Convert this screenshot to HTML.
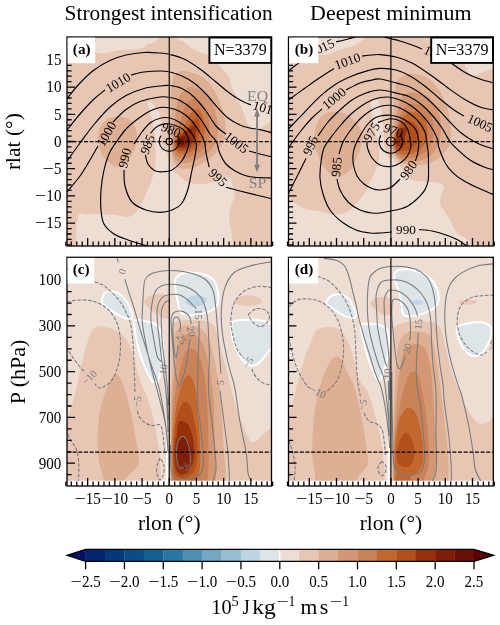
<!DOCTYPE html>
<html><head><meta charset="utf-8"><title>Composite figure</title>
<style>html,body{margin:0;padding:0;background:#fff}svg{display:block}text{font-family:'Liberation Serif', 'DejaVu Serif', serif;fill:#000}</style>
</head><body>
<svg width="500" height="625" viewBox="0 0 500 625">
<rect width="500" height="625" fill="#fff"/>
<clipPath id="cpa"><rect x="67" y="37" width="204.5" height="209"/></clipPath>
<clipPath id="cpb"><rect x="288.5" y="37" width="204.8" height="209"/></clipPath>
<clipPath id="cpc"><rect x="67" y="257.3" width="204.5" height="228.7"/></clipPath>
<clipPath id="cpd"><rect x="288.5" y="257.3" width="204.8" height="228.7"/></clipPath>
<g clip-path="url(#cpa)">
<rect x="67" y="37" width="204.5" height="209" fill="#EEDDD3"/><path d="M161.6,31 173.5,31 175.1,36 176,37.8 177,38.9 184,42 191,47.8 194,49.6 198,51.4 205,53.8 209,55.8 213,58.8 218,63.8 224.5,71 226.8,74 228,76 229.3,79 232,88 239.4,103 243.6,113 246.9,122 249,125.4 252,128.1 254,129.4 256,129.9 258,129.5 259.3,129 261.1,128 267,123.9 277,116.1 277,252 233,252 233.1,245 232.9,241 229.4,222 229,217 229.5,213 230.7,207 231.8,204 234.5,198 234.9,195 234.5,193 232.8,187 231.9,181 231,178.5 230,177.4 229.1,177 227.5,177 219,179.6 213,182.2 210,183.1 205,183.8 199,184.1 193,183.6 188,182.5 185,181 181,177.7 174.2,171 172.1,168 170.4,164 167,153.3 163,147 160.8,140 160.4,138 160.5,132 161.5,126 161.5,123 161.3,120 160.5,116 159,112 157,108.9 152,103 150,101.6 149,101.6 148.6,102 148.2,103 148.3,105 149.5,111 152.3,120 153.3,127 154.5,132 155.3,139 155.6,158 155.3,166 154.7,170 153.7,174 150,184.7 144.6,197 140,206 137,210.5 134,214 131.4,216 129,216.8 126,216.9 115,214.9 98,214.1 94,214 86,214.9 81,213.3 80,213.4 79,214.4 78.4,216 76.9,223 76.2,228 75.9,235 76,252 61,252 61,52 80,52.5 94,52 96,52.2 100,53.5 102,53.5 106,53 115,50.9 120,50 137,49.3 140,48.9 143,47.6 148,44.1 154,42.5 157,40.5 158.6,39 160.1,37 160.9,35 161.6,31Z" fill="#E7C6B3"/><path d="M178.7,72 180,71.5 182,71.1 185,71.1 190,72.1 195,73.6 199,75.3 203,77.6 206,80 208.9,83 212,87 215,91.6 217.4,96 219.6,101 221.9,107 223.6,113 224.6,118 225.4,124 225.5,129 225.4,133 224.8,137 224,140 222.8,143 221,146 218.9,149 215.6,153 212,156.7 209,159.3 206,161.4 202,163.8 198,165.8 194,167.4 190,168.5 186,169 183,169 180,168.2 178,167 176,165 174,161.9 172.3,158 171.4,154 170.8,149 170.6,140 171,120 171,102 171.3,91 171.7,85 172.6,80 174,76.5 176,74 178.7,72ZM112.4,117 117,116.4 121,116.7 125,117.7 127,118.5 129,119.7 132,122.3 134.5,126 136.1,130 136.9,134 136.9,139 136.1,144 134.5,149 132,154.3 129,159.3 126,163 123,165.4 121,166.3 119,166.8 116,166.8 113,165.6 109,162.9 105.9,160 103,156.2 100.8,152 99.4,148 98.3,143 98,138 98.2,134 99.1,130 100.4,127 103,123 106,120 109,118.2 112.4,117Z" fill="#DDAF93"/><path d="M187.3,88 190,87.1 192,87.1 195,87.8 199,89.5 202,91.3 205.5,94 208.5,97 210.8,100 212.6,103 213.9,106 216,113 217,118.2 217.7,124 218,129 217.8,133 217.1,139 215.8,143 213.4,147 211,149.9 208.9,152 203,156.4 200,158.1 196,160 189,162.4 186,162.9 183,163 180,162.4 178,161.4 176,159.9 175,158.8 174,157.1 172.9,154 172.2,150 172,145 172,140 173,130.8 175.4,116 176.6,106 177.7,101 179,97 181,93.4 184,90.3 187.3,88Z" fill="#D39774"/><path d="M190.7,100 192,99.5 194,99 196,99.3 198,100.2 200,101.6 202,103.5 203.9,106 205.6,109 207.8,115 208.7,119 209.3,123 209.8,131 209.2,138 208.3,142 206.9,145 204,148.5 200,151.7 195,154.8 190,157 185,158 181,157.8 179,157.2 177,155.9 175.4,154 174.3,152 173.7,150 173.2,147 173.1,143 173.2,140 175,133.4 180.3,122 183.6,110 185,106.1 187,102.9 189,101 190.7,100Z" fill="#CA8258"/><path d="M194.3,110 196,109.2 197,109.2 198,109.6 199,110.3 201,112.7 203,117 204.1,122 204.7,129 204.4,134 203.4,138 201.8,142 199.8,145 197,148 194,150.3 190,152.5 187,153.5 183,154 180,153.6 178,152.7 177,152 176,150.8 175.1,149 174.6,147 174.2,144 174.2,142 174.5,140 176.8,136 178.9,133 180,132.2 181,132 181.5,131 181.6,130 181.9,129 184,126.7 186.5,121 190,114.5 192,111.9 194.3,110Z" fill="#C2682F"/><path d="M194.8,119 196,118.4 197,118.3 198,119 199,121 199.7,125 199.6,130 198.9,135 197.7,139 196.3,142 195.1,144 193.5,146 191.3,148 189,149.5 187,150.3 184,151 181,150.9 179,150.4 177,148.9 176,147 175.3,143 175.4,141 175.7,140 177,138 179,136 180,134.1 181,133.5 182,133.4 184,130.5 186.7,129 191.5,122 193,120.4 194.8,119Z" fill="#B1501C"/><path d="M194,125 195,124.7 195.8,126 196.2,128 196.2,131 194.7,137 193.6,140 192.5,142 189.9,145 186,147.6 184,148.3 182,148.5 180,148.2 179,147.8 178,147.1 177.2,146 176.5,144 176.4,141 177.2,139 178,138 180,136.4 181,134.8 182,134.5 183,133.9 184,132.1 185,131.3 187,130.7 188,130.1 189.5,128 192.8,126 194,125Z" fill="#94310B"/><path d="M190.7,130 191,129.7 192.2,130 192,131.3 191,131.4 190.7,130ZM184.1,136 185,135.6 185.4,136 187,136.7 189.3,137 190,137.6 190.1,138 189.5,140 187.6,143 185,145.1 183.1,146 182,146.2 180,145.9 179,145.4 177.9,144 177.3,142 177.5,140 178.1,139 182,136.4 184.1,136Z" fill="#7F1E07"/><path d="M180.1,139 182,138.9 183.6,140 184,141 183.8,142 183,143 182,143.5 181,143.7 180,143.4 179,142.5 178.5,141 178.7,140 180.1,139Z" fill="#6A0F08"/>
<path d="M67,98.5C69.17,95.92 75.5,87.75 80,83C84.5,78.25 89,73.75 94,70C99,66.25 104.67,63 110,60.5C115.33,58 120.33,56.33 126,55C131.67,53.67 138.33,52.83 144,52.5C149.67,52.17 155.67,52.67 160,53C164.33,53.33 166,53.5 170,54.5C174,55.5 179,56.58 184,59C189,61.42 194.67,65.17 200,69C205.33,72.83 211.33,78.17 216,82C220.67,85.83 224,89 228,92C232,95 236.17,97.83 240,100C243.83,102.17 249.17,104.17 251,105M67,130C69.17,127.33 75.5,119.17 80,114C84.5,108.83 89.83,103 94,99C98.17,95 103.17,91.5 105,90M131,75C133.17,74.5 139.17,72.67 144,72C148.83,71.33 155.67,71 160,71C164.33,71 166.33,71.17 170,72C173.67,72.83 178,74.17 182,76C186,77.83 190,80 194,83C198,86 202,89.83 206,94C210,98.17 214.33,104 218,108C221.67,112 224.33,115.17 228,118C231.67,120.83 236.33,123.33 240,125C243.67,126.67 246.67,127.23 250,128C253.33,128.77 256.17,128.77 260,129.6C263.83,130.43 270.83,132.43 273,133M67,161C69.17,158 75.5,149.08 80,143C84.5,136.92 89,130.5 94,124.5C99,118.5 104.67,111.83 110,107C115.33,102.17 120.33,98.58 126,95.5C131.67,92.42 138.33,90.08 144,88.5C149.67,86.92 155.67,86.5 160,86C164.33,85.5 166.33,85.08 170,85.5C173.67,85.92 178,86.58 182,88.5C186,90.42 190,93.25 194,97C198,100.75 202.33,106.17 206,111C209.67,115.83 212.67,122.17 216,126C219.33,129.83 224.33,132.67 226,134M249,151C250.83,151.5 256,153 260,154C264,155 270.83,156.5 273,157M67,192C69.17,189.33 76.17,181.33 80,176C83.83,170.67 87,165 90,160C93,155 96.67,148.33 98,146M113,122C115.17,119.92 121.5,112.92 126,109.5C130.5,106.08 134.33,103.58 140,101.5C145.67,99.42 155,97.67 160,97C165,96.33 166.67,96.92 170,97.5C173.33,98.08 176.33,98.58 180,100.5C183.67,102.42 188.33,105.58 192,109C195.67,112.42 199,116.83 202,121C205,125.17 207.6,130.57 210,134C212.4,137.43 214.8,138.47 216.4,141.6C218,144.73 218,149.07 219.6,152.8C221.2,156.53 223.33,160.93 226,164C228.67,167.07 231.6,169.07 235.6,171.2C239.6,173.33 243.77,175.67 250,176.8C256.23,177.93 269.17,177.8 273,178M150,247C149,246.67 147.67,246.17 144,245C140.33,243.83 133,241.83 128,240C123,238.17 118,236.67 114,234C110,231.33 106.17,228 104,224C101.83,220 101.5,215.67 101,210C100.5,204.33 100.5,196.67 101,190C101.5,183.33 102.67,176 104,170C105.33,164 106.83,158.83 109,154C111.17,149.17 114,145.33 117,141C120,136.67 123.33,131.83 127,128C130.67,124.17 135.17,120.83 139,118C142.83,115.17 146.5,112.75 150,111C153.5,109.25 156.67,108 160,107.5C163.33,107 166.67,107.33 170,108C173.33,108.67 176.67,109.67 180,111.5C183.33,113.33 186.83,115.75 190,119C193.17,122.25 196.6,127.23 199,131C201.4,134.77 203.23,137.97 204.4,141.6C205.57,145.23 205.2,148.53 206,152.8C206.8,157.07 208.67,164.8 209.2,167.2M226,187.2C228.33,187.83 235,189.7 240,191C245,192.3 250.5,193.67 256,195C261.5,196.33 270.17,198.33 273,199M124,170C124.17,172.67 123.67,180.67 125,186C126.33,191.33 128.5,198 132,202C135.5,206 141.33,208.27 146,210C150.67,211.73 155.67,212.4 160,212.4C164.33,212.4 168.33,211.57 172,210C175.67,208.43 179.33,206.5 182,203C184.67,199.5 186.4,194.17 188,189C189.6,183.83 190.43,177.5 191.6,172C192.77,166.5 194.2,160.5 195,156C195.8,151.5 196.57,148.17 196.4,145C196.23,141.83 195.4,139.67 194,137C192.6,134.33 190.5,131.5 188,129C185.5,126.5 182,123.83 179,122C176,120.17 173.17,118.63 170,118C166.83,117.37 163.33,117.37 160,118.2C156.67,119.03 153,120.7 150,123C147,125.3 144.67,128.5 142,132C139.33,135.5 135.33,142 134,144M145.4,155C145.83,156.5 146.52,161.42 148,164C149.48,166.58 151.97,169.2 154.3,170.5C156.63,171.8 159.05,171.88 162,171.8C164.95,171.72 168.83,171.63 172,170C175.17,168.37 178.58,165 181,162C183.42,159 185.17,155.42 186.5,152C187.83,148.58 189.03,144.5 189,141.5C188.97,138.5 187.38,136.08 186.3,134C185.22,131.92 184.22,130.38 182.5,129C180.78,127.62 178.35,126.57 176,125.7C173.65,124.83 170.73,124.02 168.4,123.8C166.07,123.58 164.13,123.77 162,124.4C159.87,125.03 157.52,126.1 155.6,127.6C153.68,129.1 151.35,132.43 150.5,133.4M177.39,135.66A10,10 0 1 1 161.01,135.66M172.5,141.4A3.2,3.2 0 1 1 166.1,141.4A3.2,3.2 0 1 1 172.5,141.4Z" fill="none" stroke="#000" stroke-width="1.15" stroke-linecap="butt"/>
<path d="M169.25,37V246" stroke="#000" stroke-width="1.15"/>
<path d="M67,141.6H271.5" stroke="#000" stroke-width="1.05" stroke-dasharray="4 1.65"/>
<text transform="translate(118,82.5) rotate(-31)" font-size="13.2" text-anchor="middle" y="4.4">1010</text>
<text transform="translate(106.5,134) rotate(-60)" font-size="13.2" text-anchor="middle" y="4.4">1000</text>
<text transform="translate(124.8,158) rotate(-76)" font-size="13.2" text-anchor="middle" y="4.4">990</text>
<text transform="translate(147.5,144.5) rotate(-68)" font-size="13.2" text-anchor="middle" y="4.4">985</text>
<text transform="translate(171,130) rotate(24)" font-size="13.2" text-anchor="middle" y="4.4">980</text>
<text transform="translate(236.5,142.5) rotate(38)" font-size="13.2" text-anchor="middle" y="4.4">1005</text>
<text transform="translate(218,177.5) rotate(43)" font-size="13.2" text-anchor="middle" y="4.4">995</text>
<text transform="translate(266,108.5) rotate(16)" font-size="13.2" text-anchor="middle" y="4.4">1015</text>
</g>
<g clip-path="url(#cpb)">
<rect x="288.5" y="37" width="204.8" height="209" fill="#EEDDD3"/><path d="M366.7,31 460,31 461,35 461.7,39 462.2,51 463.8,61 464.9,65 466.5,69.3 468,72 469.5,73.7 471.2,75 472.5,75.6 474.5,75.8 476.5,75.1 480.5,72.9 499.5,66.3 499.5,252 471,252 470.4,244 469.9,242 469.3,241 468.4,240 466.5,238.4 459.5,235 458.1,234 456.5,232.3 454.5,229 449.4,219 445.7,213 441.5,207 440.5,205 439.9,202 440.2,199 441,196 443.4,190 443.8,188 443.5,186.5 442.5,185 441.5,184.3 439.5,183.4 435.5,182.2 431.5,181.9 425.5,181.8 418.1,181 413.5,180.2 410.5,179.2 408.5,177.8 406.5,175.7 401.7,168 399.1,165 395.5,162 393.5,158.7 392.5,157.9 389.5,158.1 388.5,157.3 386.5,154.3 386,153 384.4,147 383.3,134 382.1,115 381.1,108 379.9,104 378.5,101.3 376.5,99.4 374.5,98.3 373.5,98.2 372.5,98.5 371.4,100 371,102 370.9,108 371.6,115 372.1,118 375.1,131 376.6,136 377.2,140 378.7,144 379.1,146 379.4,149 379.1,152 379.3,155 379.1,157 377.3,165 375.4,171 373.6,175 366.2,190 364,194 361.9,197 353.5,206.8 351.2,209 348.5,211.1 346.5,212.3 343.5,213.6 341.5,214.1 338.5,214.4 334.5,214.4 330.5,214.1 326.5,213.3 318.5,211.1 309.5,209.8 305.5,208.8 301.5,207.1 297.5,204.9 294.7,203 290.5,199.4 288.5,198.1 285.5,197.3 282.5,197.1 282.5,57 299.5,56.5 317.5,55 324.5,55.1 327.5,54.6 340.5,49.6 352.5,46.3 356.5,44.6 362.8,40 364.5,38.2 365.9,35 366.7,31Z" fill="#E7C6B3"/><path d="M407.6,74 410.5,73.5 413.5,73.5 417.5,74 421.5,75 424.5,76.2 427.5,78 429.5,79.5 432.5,82.3 435.5,85.7 438.7,90 441.3,94 443.9,99 446,104 447.4,108 448.7,113 449.9,119 450.8,127 451.1,138 450.3,143 449.1,146 448,148 445.9,151 443.1,154 439.7,157 435.6,160 433.5,161.3 430.5,162.7 426.5,163.9 422.5,164.7 415.5,165.5 410.5,165.5 406.5,164.7 402.5,163.1 399.5,161.3 396.6,159 395.8,158 393,153 392,149 391.7,146 391.6,140 392,129 393.9,110 394.6,93 395.5,86.1 396.9,82 398.1,80 399.5,78.5 401.5,76.8 403.5,75.6 407.6,74ZM329.6,112 331.5,111.7 334.5,111.6 340.5,112.4 345.5,113.8 349.5,116.1 354.5,120.4 357.6,124 359.5,127 361.5,131 362.4,133 362.9,135 362.9,137 362.5,140 359.8,150 357.3,157 353.9,164 350.5,169.2 347.5,172.4 345.5,173.9 343.5,175 341.5,175.8 339.5,176.2 336.5,176.3 334.5,175.8 332.4,175 330.5,173.9 328.5,172.4 325.5,169.1 322.2,164 318.5,157 315.3,148 314.2,144 313.9,141 314,138 314.6,132 315.9,127 318.3,121 320,118 322.5,115.4 325.5,113.7 329.6,112Z" fill="#DDAF93"/><path d="M408.1,93 410.5,92.4 413.5,92.2 416.5,92.5 420.5,93.4 425.5,95.4 428.5,97.4 430.5,99.1 432.5,101.2 434.7,104 436,106 437.4,109 438.8,113 439.8,117 440.5,121 440.9,125 440.9,132 440.4,136 439.8,139 438.9,142 437.2,146 435.7,149 433.8,152 432.1,154 429.9,156 427.5,157.7 425.1,159 419.5,160.9 415.5,161.6 412.5,161.9 408.5,161.8 404.5,161.1 401.5,160.1 399.5,159 396.5,156.4 394.5,153.2 393.4,150 392.8,146 392.9,139 393.7,133 394.2,131 396.5,115.1 399,104 400.5,99.7 401.5,97.8 402.5,96.5 404.5,94.8 408.1,93Z" fill="#D39774"/><path d="M409,104 411.5,103.5 413.5,103.5 416.5,103.9 419.5,104.6 422.5,105.7 424.5,106.8 426.5,108.3 428.2,110 429.5,111.8 430.6,114 432.3,119 433.3,125 433.5,132 432.8,138 431.5,143 429.5,147 426.2,151 422.5,154.1 420.5,155.3 417.5,156.5 412.5,157.8 409.5,158.1 406.5,158.2 403.5,157.9 401.5,157.4 398.5,155.8 396.5,154 395.1,152 394,149 393.5,146 393.4,142 393.7,138 394.5,134 395.5,131 395.9,129 398.3,121 401.5,112 403,109 404.5,107 406.5,105.2 409,104Z" fill="#CA8258"/><path d="M411.3,112 413.5,111.9 415.5,112.3 419.4,114 422.5,116.5 424.5,119.3 425.5,121.3 426.5,124 427.3,129 427.4,134 426.5,139.8 425.3,143 423.5,146 420.5,149.1 416.5,151.9 412.5,153.7 409.5,154.5 405.5,154.9 401.5,154.5 398.5,153.3 396.5,151.7 395.5,150.4 394.5,148 394.1,145 394,141 394.3,138 395,135 397.5,127.7 399.5,123.2 402.5,118 404.5,115.6 406.5,114 409.5,112.5 411.3,112Z" fill="#C2682F"/><path d="M407.3,121 409.5,120.8 412.5,121.7 414.5,123.1 416.9,126 418.2,129 418.8,132 418.9,136 418.4,140 417.2,143 415.8,145 413.8,147 411,149 408.5,150.1 405.5,150.8 402.5,151 400.5,150.8 397.5,149.6 396.5,148.8 395.5,147.3 394.6,143 394.7,140 395,138 396.1,134 397.1,132 398.1,129 400.5,125.4 401.5,124.3 403.5,122.8 405.5,121.6 407.3,121Z" fill="#B1501C"/><path d="M401.9,128 403.5,127.5 404.5,127.6 405.5,128 406.5,129 406.8,130 406.8,131 405.2,135 404.6,137 405,142 404.7,144 404,145 402.7,146 401.5,146.4 399.5,146.5 397.5,145.9 396.5,145 395.5,142.6 395.5,139.4 396.5,135.9 399.5,130 400.5,128.9 401.9,128Z" fill="#94310B"/>
<path d="M288.4,71C290.33,69.5 296.4,64.5 300,62C303.6,59.5 308.33,57 310,56M336,42C338,41.5 344.33,40 348,39C351.67,38 356.33,36.5 358,36M381,36C382.5,36.42 386.83,37.67 390,38.5C393.17,39.33 396.33,39.92 400,41C403.67,42.08 408.33,43.67 412,45C415.67,46.33 420.33,48.33 422,49M451,63C453.5,64.67 461.17,70.33 466,73C470.83,75.67 475.33,77.33 480,79C484.67,80.67 491.67,82.33 494,83M288.4,100C291,98.13 298.73,92.55 304,88.8C309.27,85.05 315,80.88 320,77.5C325,74.12 331.67,70 334,68.5M362,56C363.67,55.83 369,55.23 372,55C375,54.77 376,54.27 380,54.6C384,54.93 390.67,55.6 396,57C401.33,58.4 406,59.83 412,63C418,66.17 426,71.83 432,76C438,80.17 442.67,84.17 448,88C453.33,91.83 458.67,95.83 464,99C469.33,102.17 475,105.17 480,107C485,108.83 491.67,109.5 494,110M288.4,129C291,126.3 298.73,118.23 304,112.8C309.27,107.37 314.67,101.2 320,96.4C325.33,91.6 330.67,87.4 336,84C341.33,80.6 346.67,78.23 352,76C357.33,73.77 363.33,71.87 368,70.6C372.67,69.33 375.33,68.5 380,68.4C384.67,68.3 391,68.73 396,70C401,71.27 405,73.17 410,76C415,78.83 421,83.17 426,87C431,90.83 435.33,95.17 440,99C444.67,102.83 450,107.17 454,110C458,112.83 462.33,115 464,116M288.4,148C290.33,145.33 296.07,137 300,132C303.93,127 308.33,121.83 312,118C315.67,114.17 320.33,110.5 322,109M346,90C348.33,88.83 355.67,84.67 360,83C364.33,81.33 368.67,80.67 372,80C375.33,79.33 375.33,78.33 380,79C384.67,79.67 394.67,82.5 400,84C405.33,85.5 408,86 412,88C416,90 420,92.83 424,96C428,99.17 432,103 436,107C440,111 444,115.83 448,120C452,124.17 455.67,128.4 460,132C464.33,135.6 470,139.27 474,141.6C478,143.93 480.67,144.77 484,146C487.33,147.23 492.33,148.5 494,149M288.4,193.5C289.67,191 293.07,184.33 296,178.5C298.93,172.67 304.33,161.83 306,158.5M318,136C319.67,133.67 324.33,126.33 328,122C331.67,117.67 336,113.67 340,110C344,106.33 347.67,102.83 352,100C356.33,97.17 361.33,94.67 366,93C370.67,91.33 374.33,89.83 380,90C385.67,90.17 395,92.83 400,94C405,95.17 406.33,95.17 410,97C413.67,98.83 418.33,102 422,105C425.67,108 428.67,111.17 432,115C435.33,118.83 439,123.57 442,128C445,132.43 447.33,137.93 450,141.6C452.67,145.27 454.67,146.93 458,150C461.33,153.07 465.67,157.17 470,160C474.33,162.83 480,165.33 484,167C488,168.67 492.33,169.5 494,170M392,232C390,232.17 383.67,232.83 380,233C376.33,233.17 374,233.5 370,233C366,232.5 360.67,231.83 356,230C351.33,228.17 346.33,225.33 342,222C337.67,218.67 333.17,214.67 330,210C326.83,205.33 324.67,199.33 323,194C321.33,188.67 320.33,183.33 320,178C319.67,172.67 320.33,167 321,162C321.67,157 322.17,152.33 324,148C325.83,143.67 329.33,139.67 332,136C334.67,132.33 337,129.5 340,126C343,122.5 346.33,118.42 350,115C353.67,111.58 358.33,108 362,105.5C365.67,103 368.83,101.33 372,100C375.17,98.67 378,97.97 381,97.5C384,97.03 386.83,96.78 390,97.2C393.17,97.62 396.67,98.7 400,100C403.33,101.3 406.67,102.83 410,105C413.33,107.17 416.67,109.67 420,113C423.33,116.33 427.17,120.83 430,125C432.83,129.17 435.5,134.17 437,138C438.5,141.83 437.53,143.67 439,148C440.47,152.33 443.33,159.73 445.8,164C448.27,168.27 450.6,170.67 453.8,173.6C457,176.53 461.3,179.37 465,181.6C468.7,183.83 471.17,184.77 476,187C480.83,189.23 491,193.67 494,195M419,229.6C421.17,229.83 427.5,230.1 432,231C436.5,231.9 441.67,233.5 446,235C450.33,236.5 454.33,238 458,240C461.67,242 466.33,245.83 468,247M339,154C339.67,152 341.17,145.83 343,142C344.83,138.17 347.17,134.83 350,131C352.83,127.17 356.67,122.33 360,119C363.33,115.67 366.67,113.08 370,111C373.33,108.92 376.67,107.45 380,106.5C383.33,105.55 386.67,105.05 390,105.3C393.33,105.55 397,106.8 400,108C403,109.2 405,110.33 408,112.5C411,114.67 415.17,117.75 418,121C420.83,124.25 423.57,128.57 425,132C426.43,135.43 426.07,138.13 426.6,141.6C427.13,145.07 427.88,148.57 428.2,152.8C428.52,157.03 428.5,162.47 428.5,167C428.5,171.53 428.78,176.23 428.2,180C427.62,183.77 426.87,186.43 425,189.6C423.13,192.77 419.83,196.27 417,199C414.17,201.73 410.83,204.33 408,206C405.17,207.67 402.9,208.17 400,209C397.1,209.83 393.93,210.33 390.6,211C387.27,211.67 383.1,212.67 380,213C376.9,213.33 375.33,213.5 372,213C368.67,212.5 364,211.83 360,210C356,208.17 351.33,205.33 348,202C344.67,198.67 341.83,193.83 340,190C338.17,186.17 337.5,180.83 337,179M415.4,160.8C415.8,159.47 417.27,156 417.8,152.8C418.33,149.6 418.9,145.4 418.6,141.6C418.3,137.8 417.77,133.27 416,130C414.23,126.73 410.67,124.08 408,122C405.33,119.92 403,118.63 400,117.5C397,116.37 393.33,115.45 390,115.2C386.67,114.95 382.67,115.45 380,116C377.33,116.55 376.17,117 374,118.5C371.83,120 369.33,122.08 367,125C364.67,127.92 362,132.5 360,136C358,139.5 356.17,142.83 355,146C353.83,149.17 353.25,151.83 353,155C352.75,158.17 352.83,161.5 353.5,165C354.17,168.5 355.25,172.83 357,176C358.75,179.17 361.5,181.92 364,184C366.5,186.08 369.33,187.5 372,188.5C374.67,189.5 376.9,190.17 380,190C383.1,189.83 387.23,189.33 390.6,187.5C393.97,185.67 398.6,180.42 400.2,179M378,122.5C380.1,121.88 386.77,118.97 390.6,118.8C394.43,118.63 398.18,119.8 401,121.5C403.82,123.2 405.9,125.65 407.5,129C409.1,132.35 410.08,138.43 410.6,141.6C411.12,144.77 411.13,145.6 410.6,148C410.07,150.4 409,153.6 407.4,156C405.8,158.4 403.75,160.65 401,162.4C398.25,164.15 394.4,166.07 390.9,166.5C387.4,166.93 383.15,166.42 380,165C376.85,163.58 374.08,160.83 372,158C369.92,155.17 368.33,150.83 367.5,148C366.67,145.17 367.08,142.17 367,141M400.02,134.4A11.7,11.7 0 1 1 380.88,135.4M395.2,141.6A4.4,4.4 0 1 1 386.4,141.6A4.4,4.4 0 1 1 395.2,141.6Z" fill="none" stroke="#000" stroke-width="1.15" stroke-linecap="butt"/>
<path d="M390.9,37V246" stroke="#000" stroke-width="1.15"/>
<path d="M288.5,141.6H493.3" stroke="#000" stroke-width="1.05" stroke-dasharray="4 1.65"/>
<text transform="translate(321.8,47.6) rotate(-24)" font-size="13.2" text-anchor="middle" y="4.4">1015</text>
<text transform="translate(436.5,54.6) rotate(25)" font-size="13.2" text-anchor="middle" y="4.4">1015</text>
<text transform="translate(347.5,61) rotate(-20)" font-size="13.2" text-anchor="middle" y="4.4">1010</text>
<text transform="translate(480,123) rotate(25)" font-size="13.2" text-anchor="middle" y="4.4">1005</text>
<text transform="translate(334,98.5) rotate(-40)" font-size="13.2" text-anchor="middle" y="4.4">1000</text>
<text transform="translate(310.5,145.5) rotate(-66)" font-size="13.2" text-anchor="middle" y="4.4">995</text>
<text transform="translate(406,229.5) rotate(0)" font-size="13.2" text-anchor="middle" y="4.4">990</text>
<text transform="translate(336.5,167) rotate(-85)" font-size="13.2" text-anchor="middle" y="4.4">985</text>
<text transform="translate(408.5,170) rotate(-55)" font-size="13.2" text-anchor="middle" y="4.4">980</text>
<text transform="translate(371.5,132) rotate(-58)" font-size="13.2" text-anchor="middle" y="4.4">975</text>
<text transform="translate(393.5,130.5) rotate(20)" font-size="13.2" text-anchor="middle" y="4.4">970</text>
</g>
<g clip-path="url(#cpc)">
<rect x="67" y="257.3" width="204.5" height="228.7" fill="#BCD5E2"/><path d="M61,251.3 277,251.3 277,492.3 61,492.3 61,251.3ZM196,295.3 193,295.6 191,296.2 188,297.7 186.3,299.3 185.6,300.3 185.4,301.3 185.5,302.3 186,303.3 188,305 190,305.9 192,306.4 195,306.7 198,306.4 201,305.5 203.6,304.3 204.9,303.3 206,302.1 206.7,300.3 206.6,299.3 206,298.1 205,297.3 202,296 199,295.4 196,295.3Z" fill="#DEE5E9"/><path d="M61,251.3 277,251.3 277,326.8 274,324.6 272,323.7 264,321.2 257,319.7 252,319.5 237,320.3 234,321 233,321.6 231.8,323.3 231.5,325.3 231.4,328.3 231.9,334.3 233,339.9 235,346.4 237.5,352.3 240,356.7 243,360.6 246,363.4 248,364.8 250,365.6 252,365.8 254,365.5 257,364.1 259,362.8 262,359.8 269,350.5 274,346.9 277,344 277,492.3 61,492.3 61,251.3ZM110,291.2 108,291.4 106,292 105,292.7 103.8,294.3 102.4,298.3 101.9,300.3 102,302.3 103,304.3 105.4,306.3 115,312.8 121,316.3 124,317.6 127,318.5 130,318.9 132,318.7 132.4,318.3 132.5,316.3 132,313.3 131.1,310.3 127.7,303.3 124.2,298.3 121,295 118,293 114,291.5 110,291.2ZM135,319.8 134,320.5 133.8,322.3 135.5,335.3 138,346.9 140,354 142,359.9 146,369.6 151,379.4 152.5,381.3 154,382.3 156,382.6 157,382.3 157.9,381.3 158.3,380.3 159.5,376.3 160.4,372.3 161.7,364.3 162.8,352.3 163.1,346.3 162.8,341.3 162,336.3 160.6,331.3 159.4,328.3 158.1,326.3 156,324.6 154,323.5 150,322.1 142,320.2 138,319.6 135,319.8ZM184,273.2 180,274.5 177.3,276.3 175.8,278.3 174.9,281.3 174.9,283.3 175.3,287.3 176.5,295.3 178.3,305.3 179.3,309.3 180.8,312.3 181.8,313.3 183,314.1 186,315.1 189,315.3 194,315 200,314 207,312.2 211,310.6 214.5,308.3 216.3,306.3 217.5,304.3 218.2,301.3 218.4,297.3 217.8,291.3 216.7,286.3 215.7,283.3 213.8,280.3 211.7,278.3 209,276.5 206,275.2 203,274.3 196,273.1 192,272.6 188,272.6 184,273.2Z" fill="#EEDDD3"/><path d="M155.8,294.3 160,294 164,294.5 167,295.8 168,296.7 168.3,297.3 169,299 169.3,301.3 169.8,309.3 169.3,316.3 169,317.6 168,318.9 166,318.8 164,318.2 161,316.6 156,313.4 147.9,307.3 145.8,305.3 144.5,303.3 144.3,302.3 144.4,301.3 144.9,300.3 148,297.3 151,295.6 155.8,294.3ZM246.9,295.3 252,295.4 256,296.6 259.1,298.3 261.8,300.3 262.3,301.3 262.1,302.3 260.9,303.3 258.3,304.3 253,305.6 249,306 245,305.9 241.6,305.3 237.8,304.3 235.3,303.3 234.2,302.3 234.2,301.3 234.9,300.3 236.2,299.3 239,297.5 241,296.6 244,295.7 246.9,295.3ZM185.1,320.3 197,320.2 203,320.5 206,321 209,322 211.1,323.3 213.3,325.3 215.3,328.3 216.6,331.3 217.5,334.3 230,384.3 235,402.9 244.5,430.3 247,435.7 250,440.4 251,441.5 252.2,442.3 253,442.5 254,442.5 255,442 256,441.3 262.1,435.3 271.9,427.3 277,423.8 277,492.3 169.5,492.3 169.9,473.3 169.9,405.3 170.4,340.3 170.7,331.3 171,328.8 171.7,326.3 173,323.8 174,322.7 176,321.5 178,320.9 185.1,320.3ZM99,326.3 101,326.1 103,326.3 110,328.2 116,330.4 120,332.8 123,335.3 126,338.7 128.3,342.3 131,348.4 133,354.3 135,361.6 137.9,375.3 139.4,379.3 145.1,392.3 148.5,401.3 151.7,411.3 154,421 158,443.1 159.9,456.3 160.6,467.3 161.4,492.3 61,492.3 61,431.2 62,430 63,428.1 67,419.3 69.6,412.3 73.1,401.3 76.4,388.3 80.9,366.3 86.3,346.3 89,337.5 91,332.5 93,329.1 94,328.2 95.5,327.3 99,326.3Z" fill="#E7C6B3"/><path d="M182.4,326.3 187,325.5 191,325.6 194,325.9 198,327 200,328 202,329.3 205,332.3 207.5,336.3 210.2,343.3 212.2,350.3 214.6,360.3 218.8,381.3 220.3,392.3 224,453.3 225.6,468.3 225.6,476.3 225.1,492.3 170.5,492.3 170.9,405.3 171.5,385.3 173.3,346.3 174.1,338.3 174.8,335.3 175.8,332.3 176.9,330.3 178,328.9 180,327.4 182.4,326.3ZM114.1,374.3 115,373.7 116,373.6 117,374.1 119,376.5 121,379.9 123,384 126,392.7 130,408.2 132.9,422.3 138.3,453.3 138.8,458.3 138.9,461.3 138.2,464.3 136.6,467.3 134.9,469.3 128.4,475.3 125.7,478.3 120,487.9 116.5,492.3 109.3,492.3 107,489.3 105.2,485.3 102.8,475.3 100.4,467.3 99.2,462.3 98.4,457.3 97.8,449.3 97.6,440.3 97.8,432.3 98.3,424.3 99.1,416.3 100.3,409.3 102,402.3 105,393.4 110,381.2 112,377 113,375.5 114.1,374.3Z" fill="#DDAF93"/><path d="M186,334.3 187,333.9 189,333.6 192,334 194,334.6 197,336.2 200,339.2 202.5,343.3 204.6,348.3 206.9,356.3 208.5,364.3 210.6,376.3 212.7,391.3 213.7,401.3 215.2,453.3 216,468.3 215.9,476.3 215.1,492.3 171.2,492.3 171.1,451.3 171.6,415.3 172,399.9 173,386.7 176.5,355.3 178,347.6 179.4,343.3 182,338.5 184,335.8 186,334.3Z" fill="#D39774"/><path d="M189.6,348.3 191,348 192,348.1 194.2,349.3 196,351.1 197,352.5 199,356.3 201,361.6 202.2,366.3 205,380.6 206,387.3 207,399.8 207.9,420.3 208.8,462.3 208.2,473.3 206.2,492.3 171.9,492.3 171.7,455.3 171.9,438.3 173,410.9 174,400.3 175.1,393.3 179.6,371.3 182.7,358.3 184,355.1 185.6,352.3 188,349.4 189.6,348.3Z" fill="#CA8258"/><path d="M187.9,375.3 189,375.2 190,375.8 191.9,378.3 193,380.4 194.9,386.3 196.5,394.3 198.7,418.3 199.7,435.3 200.3,456.3 200.1,464.3 199.7,469.3 198.9,473.3 198,476.4 196.5,479.3 195,481.2 193,482.9 190,484.5 188,485.1 183,485.8 181.9,486.3 185,489.8 186.1,492.3 173.7,492.3 174,488.3 175,485.9 176.6,484.3 174.4,480.3 173.4,477.3 173,475.4 172.4,467.3 172.3,455.3 172.8,440.3 172.7,438.3 173.3,435.3 173.2,430.3 174.4,420.3 175.9,409.3 177,403 180.3,389.3 182,384.2 184,379.9 186,376.7 187,375.8 187.9,375.3Z" fill="#C2682F"/><path d="M183.9,402.3 185,401.6 186,401.4 187,401.9 188,402.9 190,406.1 191,408.3 193,414.3 195,422.9 196.4,432.3 197.4,444.3 197.6,454.3 196.9,461.3 196.1,466.3 195,469.9 193.8,472.3 192,474.5 189,476.6 185,477.9 182,478 179,477.4 177,476.4 175.9,475.3 174.8,473.3 174,470.3 173.4,466.3 173,455.3 173.8,438.3 174.9,435.3 174.5,430.3 176,420.7 177.7,414.3 179,410.5 181,406.4 183,403.3 183.9,402.3Z" fill="#B1501C"/><path d="M179.7,421.3 181,420.4 185,421.9 187,423.2 188,424.3 189,425.9 191.3,431.3 192.8,437.3 194,444.3 194.5,451.3 194.4,455.3 193.6,460.3 192.2,465.3 190.9,468.3 189,471 187,472.9 184.4,474.3 182,474.8 180,474.3 179,473.7 178,472.8 176.9,471.3 175,466 174.3,459.3 174.3,451.3 175.5,439.3 176.5,437.3 177,435.3 176.9,431.3 177.5,429.3 177.4,427.3 177.8,424.3 179,421.9 179.7,421.3Z" fill="#94310B"/><path d="M181.5,437.3 183,436.5 184,436.6 186,438 188,440.7 189,442.7 190.3,446.3 191,449.3 191.2,452.3 191,455.4 190.2,459.3 189.2,462.3 188,465 186.5,467.3 185,468.9 183,470 182,470.1 181,469.9 180,469.2 178,466.4 176.7,462.3 176.1,457.3 176.3,451.3 177.2,446.3 179,441.1 180,439.2 181.5,437.3Z" fill="#7F1E07"/><path d="M184,273.2 180,274.5 177.3,276.3 175.8,278.3 174.9,281.3 174.9,283.3 175.3,287.3 176.5,295.3 178.3,305.3 179.3,309.3 180.8,312.3 181.8,313.3 183,314.1 186,315.1 189,315.3 194,315 200,314 207,312.2 211,310.6 214.5,308.3 216.3,306.3 217.5,304.3 218.2,301.3 218.4,297.3 217.8,291.3 216.7,286.3 215.7,283.3 213.8,280.3 211.7,278.3 209,276.5 206,275.2 203,274.3 196,273.1 192,272.6 188,272.6 184,273.2M110,291.2 108,291.4 106,292 105,292.7 103.8,294.3 102.4,298.3 101.9,300.3 102,302.3 103,304.3 105.4,306.3 115,312.8 121,316.3 124,317.6 127,318.5 130,318.9 132,318.7 132.4,318.3 132.5,316.3 132,313.3 131.1,310.3 127.7,303.3 124.2,298.3 121,295 118,293 114,291.5 110,291.2M135,319.8 134,320.5 133.8,322.3 135.5,335.3 138,346.9 140,354 142,359.9 146,369.6 151,379.4 152.5,381.3 154,382.3 156,382.6 157,382.3 157.9,381.3 158.3,380.3 159.5,376.3 160.4,372.3 161.7,364.3 162.8,352.3 163.1,346.3 162.8,341.3 162,336.3 160.6,331.3 159.4,328.3 158.1,326.3 156,324.6 154,323.5 150,322.1 142,320.2 138,319.6 135,319.8M277,326.8 274,324.6 272,323.7 264,321.2 257,319.7 252,319.5 237,320.3 234,321 233,321.6 231.8,323.3 231.5,325.3 231.4,328.3 231.9,334.3 233,339.9 235,346.4 237.5,352.3 240,356.7 243,360.6 246,363.4 248,364.8 250,365.6 252,365.8 254,365.5 257,364.1 259,362.8 262,359.8 269,350.5 274,346.9 277,344" fill="none" stroke="#fff" stroke-width="2" stroke-linejoin="round"/>
<rect x="67" y="480.7" width="204.5" height="8" fill="#fff"/>
<path d="M166.95,440V481" stroke="#fff" stroke-width="1.8"/>
<path d="M117.2,257.6C117.38,258.42 118.12,261.68 118.3,262.5M124.9,279.2C125.45,281.03 126.92,286.17 128.2,290.2C129.48,294.23 131.32,299.37 132.6,303.4C133.88,307.43 134.62,310 135.9,314.4C137.18,318.8 138.65,324.3 140.3,329.8C141.95,335.3 143.97,341.53 145.8,347.4C147.63,353.27 149.47,359.5 151.3,365C153.13,370.5 155.33,375.82 156.8,380.4C158.27,384.98 159.07,387.9 160.1,392.5C161.13,397.1 162.1,402.75 163,408C163.9,413.25 164.8,418.67 165.5,424C166.2,429.33 166.78,435.33 167.2,440C167.62,444.67 167.87,450 168,452M271.7,261.7C267.97,262.45 255.65,264.32 249.3,266.2C242.95,268.08 237.72,269.27 233.6,273C229.48,276.73 226.65,282.27 224.6,288.6C222.55,294.93 221.67,303.53 221.3,311C220.93,318.47 221.28,324.82 222.4,333.4C223.52,341.98 226.13,354.28 228,362.5C229.87,370.72 232.27,377.28 233.6,382.7C234.93,388.12 234.93,388.45 236,395C237.07,401.55 238.27,412.17 240,422C241.73,431.83 245.07,445.5 246.4,454C247.73,462.5 247.23,468.5 248,473C248.77,477.5 250.5,479.67 251,481M167.6,446C167.43,443.67 167.28,437.17 166.6,432C165.92,426.83 164.85,421.17 163.5,415C162.15,408.83 160.25,401.67 158.5,395C156.75,388.33 154.65,381.33 153,375C151.35,368.67 150,363.33 148.6,357C147.2,350.67 145.67,343 144.6,337C143.53,331 142.52,326.33 142.2,321C141.88,315.67 142.3,311.67 142.7,305C143.1,298.33 143.38,286.08 144.6,281C145.82,275.92 148.13,275.97 150,274.5C151.87,273.03 152.57,272.85 155.8,272.2C159.03,271.55 164.87,270.73 169.4,270.6C173.93,270.47 178.6,270.73 183,271.4C187.4,272.07 191.8,273 195.8,274.6C199.8,276.2 204.13,278.33 207,281C209.87,283.67 211.58,286.6 213,290.6C214.42,294.6 214.68,297.87 215.5,305C216.32,312.13 217.15,324.23 217.9,333.4C218.65,342.57 219.52,353.23 220,360C220.48,366.77 220.67,371.67 220.8,374M220,391C220.67,396.17 222.67,411.5 224,422C225.33,432.5 227.07,444.17 228,454C228.93,463.83 229.33,476.5 229.6,481M162.4,362C161.57,361.17 158.9,361.17 157.4,357C155.9,352.83 154.47,343 153.4,337C152.33,331 151.27,326.33 151,321C150.73,315.67 151,310.07 151.8,305C152.6,299.93 154.1,293.8 155.8,290.6C157.5,287.4 159.73,286.87 162,285.8C164.27,284.73 166.43,284.33 169.4,284.2C172.37,284.07 176.2,284.2 179.8,285C183.4,285.8 187.53,287 191,289C194.47,291 198.2,293.83 200.6,297C203,300.17 204.2,304 205.4,308C206.6,312 207.27,316.17 207.8,321C208.33,325.83 208.33,331 208.6,337C208.87,343 209.42,348.17 209.4,357C209.38,365.83 208.07,379.17 208.5,390C208.93,400.83 210.88,411.33 212,422C213.12,432.67 214.53,446 215.2,454C215.87,462 216.4,465.5 216,470C215.6,474.5 213.33,479.17 212.8,481M164.6,378C164.83,380.33 165.57,386.67 166,392C166.43,397.33 166.87,403.33 167.2,410C167.53,416.67 167.87,428.33 168,432M168.2,420C168.03,417 167.82,408.67 167.2,402C166.58,395.33 165.47,387.5 164.5,380C163.53,372.5 162.32,364.17 161.4,357C160.48,349.83 159.67,343 159,337C158.33,331 157.67,325.83 157.4,321C157.13,316.17 156.63,311.92 157.4,308C158.17,304.08 160,299.73 162,297.5C164,295.27 166.7,295.08 169.4,294.6C172.1,294.12 175.4,293.93 178.2,294.6C181,295.27 183.8,296.87 186.2,298.6C188.6,300.33 190.97,303.35 192.6,305C194.23,306.65 195.43,307.92 196,308.5M199,321C199,323.67 199.13,331 199,337C198.87,343 198.43,346.5 198.2,357C197.97,367.5 197.3,389.17 197.6,400C197.9,410.83 199.07,413 200,422C200.93,431 202.8,446 203.2,454C203.6,462 203.47,466.17 202.4,470C201.33,473.83 199.87,475.53 196.8,477C193.73,478.47 187.73,478.9 184,478.8C180.27,478.7 176.53,477.87 174.4,476.4C172.27,474.93 171.83,475.23 171.2,470C170.57,464.77 170.7,449.17 170.6,445M168.4,405C168.27,402.5 168.08,395.83 167.6,390C167.12,384.17 166.35,377.5 165.5,370C164.65,362.5 163.18,352.5 162.5,345C161.82,337.5 161.55,330.83 161.4,325C161.25,319.17 161,313.75 161.6,310C162.2,306.25 163.7,304.08 165,302.5C166.3,300.92 168.67,300.83 169.4,300.5M191.2,324C191,323 190.87,319.83 190,318C189.13,316.17 187.67,314.17 186,313C184.33,311.83 182,311.08 180,311C178,310.92 175.47,311.33 174,312.5C172.53,313.67 171.67,316.08 171.2,318C170.73,319.92 171.07,320.87 171.2,324C171.33,327.13 171.47,330.13 172,336.8C172.53,343.47 173.6,356.8 174.4,364C175.2,371.2 176,376.27 176.8,380C177.6,383.73 178.27,386.4 179.2,386.4C180.13,386.4 181.2,383.73 182.4,380C183.6,376.27 185.2,370.4 186.4,364C187.6,357.6 188.97,345.77 189.6,341.6C190.23,337.43 190.1,339.43 190.2,339M179.5,332C179.67,331 180.58,328.17 180.5,326C180.42,323.83 179.75,320.5 179,319C178.25,317.5 176.93,316.83 176,317C175.07,317.17 173.9,317 173.4,320C172.9,323 172.87,330 173,335C173.13,340 173.7,346.17 174.2,350C174.7,353.83 175.45,358 176,358C176.55,358 177.13,352.17 177.5,350C177.87,347.83 178.08,345.83 178.2,345M181.5,468.6C181.25,468.57 180.65,469.23 180,468.4C179.35,467.57 178.18,466 177.6,463.6C177.02,461.2 176.5,457.47 176.5,454C176.5,450.53 176.62,445.73 177.6,442.8C178.58,439.87 180.8,436.67 182.4,436.4C184,436.13 186,438.8 187.2,441.2C188.4,443.6 189.07,447.6 189.6,450.8C190.13,454 190.33,458.37 190.4,460.4C190.47,462.43 190.07,462.57 190,463" fill="none" stroke="#767a7e" stroke-width="1.05"/>
<path d="M67,302.3C68.77,301.92 73.27,300.18 77.6,300C81.93,299.82 88.23,299.9 93,301.2C97.77,302.5 102.53,304.87 106.2,307.8C109.87,310.73 112.8,314.77 115,318.8C117.2,322.83 118.48,327.23 119.4,332C120.32,336.77 120.68,341.9 120.5,347.4C120.32,352.9 119.77,359.5 118.3,365C116.83,370.5 114.63,376.57 111.7,380.4C108.77,384.23 103.48,387.4 100.7,388C97.92,388.6 95.95,384.67 95,384M84,371C83.48,370.5 82.7,370.17 80.9,368C79.1,365.83 75.52,361.25 73.2,358C70.88,354.75 68.03,350.08 67,348.5M90,279.5C90.68,279.82 91.77,280.35 94.1,281.4C96.43,282.45 100.88,283.78 104,285.8C107.12,287.82 110.05,290.75 112.8,293.5C115.55,296.25 118.3,299.18 120.5,302.3C122.7,305.42 124.35,308.72 126,312.2C127.65,315.68 129.3,318.8 130.4,323.2C131.5,327.6 132.05,333.1 132.6,338.6C133.15,344.1 133.4,350.33 133.7,356.2C134,362.07 134.18,367.75 134.4,373.8C134.62,379.85 134.9,389.38 135,392.5M137.4,411C137.67,411.83 137.9,414.17 139,416C140.1,417.83 141.83,420.4 144,422C146.17,423.6 149.67,425.18 152,425.6C154.33,426.02 156.42,424.23 158,424.5C159.58,424.77 160.6,424.92 161.5,427.2C162.4,429.48 162.88,434.07 163.4,438.2C163.92,442.33 164.4,449.7 164.6,452M160,458C159.5,459.33 157.5,463.33 157,466C156.5,468.67 156.5,471.67 157,474C157.5,476.33 158.92,480 160,480C161.08,480 162.87,476.5 163.5,474C164.13,471.5 164.38,467.67 163.8,465C163.22,462.33 160.63,459.17 160,458M67.5,434C68.25,435.33 70.42,439.17 72,442C73.58,444.83 75.87,447.17 77,451C78.13,454.83 78.55,460 78.8,465C79.05,470 78.55,478.33 78.5,481M271.7,287.5C269.45,287.32 262.68,285.85 258.2,286.4C253.72,286.95 248.72,288.2 244.8,290.8C240.88,293.4 237.02,297.52 234.7,302C232.38,306.48 231.27,312.47 230.9,317.7C230.53,322.93 231.48,328.18 232.5,333.4C233.52,338.62 235.17,344.9 237,349C238.83,353.1 242.42,356.5 243.5,358M252,369C252.3,369.78 252.38,371.6 253.8,373.7C255.22,375.8 257.9,379.72 260.5,381.6C263.1,383.48 267.32,384.35 269.4,385C271.48,385.65 272.4,385.42 273,385.5M248.2,314.4C249.5,313.47 253.2,309.55 256,308.8C258.8,308.05 262.77,308.78 265,309.9C267.23,311.02 269.03,313.45 269.4,315.5C269.77,317.55 268.68,320.33 267.2,322.2C265.72,324.07 262.93,326.7 260.5,326.7C258.07,326.7 254.65,324.25 252.6,322.2C250.55,320.15 248.93,315.7 248.2,314.4" fill="none" stroke="#767a7e" stroke-width="1.05" stroke-dasharray="3.7 1.6"/>
<path d="M169.25,257.3V486" stroke="#000" stroke-width="1.15"/>
<path d="M67,452.1H271.5" stroke="#000" stroke-width="1.35" stroke-dasharray="4 1.65"/>
<text transform="translate(122.2,271.5) rotate(-72)" font-size="10.4" text-anchor="middle" y="3.5" style="fill:#767a7e">0</text>
<text transform="translate(89.5,377.5) rotate(-45)" font-size="10.4" text-anchor="middle" y="3.5" style="fill:#767a7e">−10</text>
<text transform="translate(137,401.5) rotate(-80)" font-size="10.4" text-anchor="middle" y="3.5" style="fill:#767a7e">−5</text>
<text transform="translate(163.4,369.5) rotate(-84)" font-size="10.4" text-anchor="middle" y="3.5" style="fill:#767a7e">10</text>
<text transform="translate(198.2,314.5) rotate(90)" font-size="10.4" text-anchor="middle" y="3.5" style="fill:#767a7e">15</text>
<text transform="translate(191.2,331.5) rotate(78)" font-size="10.4" text-anchor="middle" y="3.5" style="fill:#767a7e">20</text>
<text transform="translate(181.5,339) rotate(60)" font-size="10.4" text-anchor="middle" y="3.5" style="fill:#767a7e">25</text>
<text transform="translate(220.3,382.5) rotate(-85)" font-size="10.4" text-anchor="middle" y="3.5" style="fill:#767a7e">5</text>
<text transform="translate(248.3,362.5) rotate(-55)" font-size="10.4" text-anchor="middle" y="3.5" style="fill:#767a7e">−5</text>
<text transform="translate(186.2,466.5) rotate(28)" font-size="10.4" text-anchor="middle" y="3.5" style="fill:#767a7e">20</text>
</g>
<g clip-path="url(#cpd)">
<rect x="288.5" y="257.3" width="204.8" height="228.7" fill="#BCD5E2"/><path d="M282.5,251.3 499.5,251.3 499.5,492.3 282.5,492.3 282.5,251.3ZM415.5,300 412.7,301.3 412.2,302.3 412.8,303.3 414.5,304.2 416.5,304.6 418.5,304.7 420.5,304.3 422.7,303.3 422.9,302.3 422.5,301.8 420.5,300.3 418.5,299.9 415.5,300Z" fill="#DEE5E9"/><path d="M282.5,251.3 499.5,251.3 499.5,492.3 282.5,492.3 282.5,251.3ZM338.5,294.3 333.5,294.9 331.5,295.7 329.5,297.2 327.5,299.3 326.3,301.3 326.2,302.3 326.5,303.3 327.1,304.3 328,305.3 330.6,307.3 339.5,313.2 343.5,315.4 346.5,316.6 349.5,317.4 353.5,317.7 354.9,317.3 355.5,316.8 356.1,315.3 356.2,314.3 355.7,312.3 351.2,302.3 349.5,299.5 347.5,297.4 344.5,295.6 341.5,294.6 338.5,294.3ZM361.5,324.3 360.8,325.3 360.7,327.3 362.4,336.3 365.8,350.3 368.5,359.4 372.5,370.5 375.5,376.9 376.5,378.5 377.5,379.5 378.5,379.9 379.5,379.8 380.5,379 381.5,377.5 383.5,372.8 385.5,365.9 387.5,356.8 388.5,350.2 389,343.3 388.8,336.3 388.1,332.3 387.3,330.3 385.8,328.3 383.5,326.7 380.5,325.3 376.5,324.3 370.5,323.7 364.5,323.5 362.5,323.8 361.5,324.3ZM402.5,269.3 398.5,269.9 396.5,271.2 395.5,272.4 394.5,274.3 394.2,277.3 394.5,279.9 398.3,289.3 399.5,293.3 401.3,302.3 402.1,311.3 402.7,313.3 403.3,314.3 404.5,315.4 406.5,316.3 409.5,316.5 412.5,316.1 419.5,314.6 424.5,313.1 429.5,310.9 433.8,308.3 435.9,306.3 437.8,303.3 438.7,300.3 438.8,296.3 438.1,292.3 436.8,288.3 434.8,284.3 432.1,280.3 429.5,277.5 427.5,275.8 424.5,274.1 420.5,272.4 415.5,270.7 411.5,269.8 406.5,269.3 402.5,269.3ZM474.5,322.2 466.5,323.6 460.2,325.3 458.5,326.1 457.5,326.9 456.8,328.3 456.6,329.3 457.2,334.3 458.2,338.3 460.3,343.3 462.5,347.3 465.5,351.1 468.5,353.8 471.5,355.7 472.5,356.1 474.5,356.3 477.5,355.6 480.5,353.9 482.5,352.2 484.9,349.3 487.8,344.3 490,339.3 491.2,335.3 491.7,331.3 491.6,329.3 491,327.3 489.5,325.5 487.7,324.3 484.5,323 481.5,322.3 478.5,322 474.5,322.2Z" fill="#EEDDD3"/><path d="M378.8,297.3 382.5,296.8 385.5,296.8 388.5,297.5 389.6,298.3 390.5,300 390.8,301.3 391.1,304.3 391.3,308.3 391,311.3 390.6,313.3 389.5,314.8 388.5,315.3 386.5,315.6 384.5,315.6 382.5,315.1 380.5,313.9 375.8,310.3 372.6,307.3 371,305.3 370.2,303.3 370.3,302.3 370.9,301.3 374.5,298.9 376.5,297.9 378.8,297.3ZM463.3,300.3 466.5,299.9 469.5,299.9 473.5,300.5 475.5,300.1 476.5,300.2 477.2,301.3 476.5,302.4 471.2,304.3 468.5,304.7 465.5,304.6 459.5,303.5 458.5,302.8 458.3,302.3 459,301.3 463.3,300.3ZM414.1,321.3 418.5,321 423.5,321.1 431.5,322 434.5,322.8 436.5,323.7 438.5,325.3 439.5,326.6 440.9,329.3 441.9,332.3 450.5,368.3 455,381.3 461.6,397.3 465.5,405.7 470.5,414.4 475,420.3 477.5,422.5 479.5,423.5 482.5,423.8 485.5,423.2 487.5,422.2 489.5,420.8 494.4,416.3 499.5,412.3 499.5,492.3 390.8,492.3 391.5,476.3 391.5,426.3 392,399.3 392,350.3 392.3,339.3 392.9,333.3 393.5,329.6 394.4,327.3 395.5,325.8 396.5,325.2 399.5,324 403.5,322.9 407.5,322.1 414.1,321.3ZM324.4,327.3 328.5,327 331.5,327.1 334.5,327.6 336.5,328.2 338.9,329.3 341.5,331.2 343.5,333.3 344.9,335.3 347.7,340.3 350.1,346.3 353,356.3 358.1,376.3 359.4,380.3 361.1,383.3 364.8,387.3 366.3,389.3 367.3,391.3 369,395.3 373.2,408.3 376.3,419.3 379.5,433.1 381.6,444.3 382.9,453.3 384.2,468.3 385,481.3 385.2,492.3 282.5,492.3 282.5,428 288,416.3 290.5,409.9 292.7,402.3 300.6,370.3 303.2,363.3 306.1,353.3 310.5,343.3 313.5,335.1 315.5,331.3 317.4,329.3 320.5,328 324.4,327.3Z" fill="#E7C6B3"/><path d="M411.3,331.3 415.5,331 420.5,331.5 424.5,332.6 428.3,334.3 430.5,336 431.5,337.4 432.8,340.3 433.9,344.3 434.9,350.3 441,391.3 447.7,448.3 448.3,456.3 448.5,463.3 448.1,492.3 392.6,492.3 392.6,456.3 393,437.3 395,381.3 395.8,367.3 397,353.3 397.8,348.3 398.7,344.3 400.1,340.3 401.5,337.6 403.4,335.3 405.5,333.6 408.5,332.1 411.3,331.3ZM333.8,357.3 335.5,356.5 337.5,356.6 339.5,357.7 341.5,359.8 343.5,363.5 347.2,372.3 352.5,382.5 354.4,387.3 357.5,398.4 361.5,416.6 365.3,439.3 367.3,453.3 368,461.3 367.6,464.3 366.8,466.3 364.5,469.6 360.9,473.3 359.3,475.3 358.2,477.3 356.4,482.3 355,485.3 352.5,488.7 349.1,492.3 320.9,492.3 317.4,488.3 316.3,486.3 315.6,484.3 315.2,481.3 315,473.3 312.6,460.3 312.2,455.3 312.1,448.3 312.7,431.3 314.5,413.3 317,398.3 320.3,384.3 325.5,370.8 327.5,366.4 329.5,362.7 331.5,359.7 333.8,357.3Z" fill="#DDAF93"/><path d="M412.8,344.3 415.5,343.9 418.5,344.3 420.5,345.1 422.5,346.3 424.6,348.3 426.3,351.3 428.1,356.3 429.1,360.3 430.7,368.3 431.5,375.3 432.6,389.3 434.6,419.3 436,444.3 436.2,459.3 435.4,469.3 431.4,492.3 393.2,492.3 393.2,456.3 393.8,437.3 396,401.3 399.6,371.3 401.6,359.3 402.5,355.6 403.5,353.1 405.5,350 407.5,347.8 410.5,345.5 412.8,344.3Z" fill="#D39774"/><path d="M413.2,371.3 414.5,371.4 416.5,373 418.5,376.1 419.3,378.3 421.5,387.5 424.8,405.3 426.7,420.3 428.9,446.3 429,458.3 428.3,466.3 427.7,469.3 426.5,473.3 418.9,492.3 393.9,492.3 393.9,452.3 394.7,437.3 395.1,435.3 395.1,433.3 395.5,431.3 395.4,429.3 396,427.3 396.2,424.3 396.8,422.3 396.9,420.3 397.6,417.3 400.2,403.3 405.5,382.8 406.7,379.3 408.5,375.3 410.5,372.8 412.5,371.4 413.2,371.3Z" fill="#CA8258"/><path d="M407,408.3 408.5,407.6 409.5,407.5 411.5,408.2 412.7,409.3 414.4,411.3 415.6,413.3 417.5,417.5 418.8,421.3 421,430.3 422.6,441.3 423.4,452.3 423.4,457.3 423.1,461.3 422.5,464.3 421.5,467.1 420.3,469.3 418.9,471.3 417.5,472.7 415.5,474.2 410.6,476.3 410.7,477.3 412.5,480.7 413.4,484.3 413.4,487.3 412.8,492.3 394.9,492.3 394.7,484.3 395,479.3 395.5,475.5 396.4,473.3 396.4,472.3 395.5,469.6 394.8,465.3 394.6,456.3 395.3,444.3 395.8,442.3 395.8,440.3 396.1,439.3 396.1,437.3 396.7,435.3 396.5,433.3 397.1,431.3 397,429.3 397.8,427.3 397.9,425.3 398.6,423.3 398.9,420.3 400.5,416.3 401.5,414.4 403.5,411.5 405.5,409.3 407,408.3Z" fill="#C2682F"/><path d="M404.4,433.3 405.5,432.6 406.5,432.5 407.5,432.9 409.5,435.2 410.9,437.3 412.3,440.3 413.5,444.2 414.1,447.3 414.5,451.3 414.3,457.3 413.5,460.3 412.6,462.3 411.2,464.3 409.5,465.9 407.5,466.8 405.5,467.1 403.5,466.8 401.8,466.3 399.9,465.3 398.8,464.3 397.5,461.9 397,460.3 396.6,456.3 396.8,451.3 398.9,442.3 400.5,438.2 404.4,433.3ZM397.5,481.3 398.5,480.5 399.5,480.4 400.5,480.5 403.5,481.9 405.5,483.6 406.8,485.3 407.5,487.3 407.7,489.3 407.3,492.3 397.2,492.3 396.7,489.3 396.6,485.3 396.8,483.3 397.5,481.3Z" fill="#B1501C"/><path d="M402.5,269.3 398.5,269.9 396.5,271.2 395.5,272.4 394.5,274.3 394.2,277.3 394.5,279.9 398.3,289.3 399.5,293.3 401.3,302.3 402.1,311.3 402.7,313.3 403.3,314.3 404.5,315.4 406.5,316.3 409.5,316.5 412.5,316.1 419.5,314.6 424.5,313.1 429.5,310.9 433.8,308.3 435.9,306.3 437.8,303.3 438.7,300.3 438.8,296.3 438.1,292.3 436.8,288.3 434.8,284.3 432.1,280.3 429.5,277.5 427.5,275.8 424.5,274.1 420.5,272.4 415.5,270.7 411.5,269.8 406.5,269.3 402.5,269.3M338.5,294.3 333.5,294.9 331.5,295.7 329.5,297.2 327.5,299.3 326.3,301.3 326.2,302.3 326.5,303.3 327.1,304.3 328,305.3 330.6,307.3 339.5,313.2 343.5,315.4 346.5,316.6 349.5,317.4 353.5,317.7 354.9,317.3 355.5,316.8 356.1,315.3 356.2,314.3 355.7,312.3 351.2,302.3 349.5,299.5 347.5,297.4 344.5,295.6 341.5,294.6 338.5,294.3M474.5,322.2 466.5,323.6 460.2,325.3 458.5,326.1 457.5,326.9 456.8,328.3 456.6,329.3 457.2,334.3 458.2,338.3 460.3,343.3 462.5,347.3 465.5,351.1 468.5,353.8 471.5,355.7 472.5,356.1 474.5,356.3 477.5,355.6 480.5,353.9 482.5,352.2 484.9,349.3 487.8,344.3 490,339.3 491.2,335.3 491.7,331.3 491.6,329.3 491,327.3 489.5,325.5 487.7,324.3 484.5,323 481.5,322.3 478.5,322 474.5,322.2M361.5,324.3 360.8,325.3 360.7,327.3 362.4,336.3 365.8,350.3 368.5,359.4 372.5,370.5 375.5,376.9 376.5,378.5 377.5,379.5 378.5,379.9 379.5,379.8 380.5,379 381.5,377.5 383.5,372.8 385.5,365.9 387.5,356.8 388.5,350.2 389,343.3 388.8,336.3 388.1,332.3 387.3,330.3 385.8,328.3 383.5,326.7 380.5,325.3 376.5,324.3 370.5,323.7 364.5,323.5 362.5,323.8 361.5,324.3" fill="none" stroke="#fff" stroke-width="2" stroke-linejoin="round"/>
<rect x="288.5" y="480.7" width="204.8" height="8" fill="#fff"/>
<path d="M388.6,436V481" stroke="#fff" stroke-width="1.8"/>
<path d="M323.8,258.3C326,258.67 333.52,259.22 337,260.5C340.48,261.78 342.68,263.25 344.7,266C346.72,268.75 347.82,272.97 349.1,277C350.38,281.03 351.3,285.8 352.4,290.2C353.5,294.6 354.6,298.63 355.7,303.4C356.8,308.17 357.53,312.93 359,318.8C360.47,324.67 362.67,332.37 364.5,338.6C366.33,344.83 368.17,350.33 370,356.2C371.83,362.07 373.67,368.67 375.5,373.8C377.33,378.93 379.5,382.13 381,387C382.5,391.87 383.5,397.5 384.5,403C385.5,408.5 386.28,414.5 387,420C387.72,425.5 388.37,431.33 388.8,436C389.23,440.67 389.47,446 389.6,448M493.2,263.8C490.57,264.17 482.6,264.53 477.4,266C472.2,267.47 466.22,270.03 462,272.6C457.78,275.17 454.67,277.73 452.1,281.4C449.53,285.07 447.82,289.47 446.6,294.6C445.38,299.73 444.98,305.97 444.8,312.2C444.62,318.43 444.83,325.4 445.5,332C446.17,338.6 447.52,345.57 448.8,351.8C450.08,358.03 451.55,363.53 453.2,369.4C454.85,375.27 457.23,382.5 458.7,387C460.17,391.5 460.35,390.07 462,396.4C463.65,402.73 466.77,415.83 468.6,425C470.43,434.17 471.9,444.07 473,451.4C474.1,458.73 473.92,464.07 475.2,469C476.48,473.93 479.78,479 480.7,481M389.4,436C389.23,433 389.25,427.27 388.4,418C387.55,408.73 385.9,389.23 384.3,380.4C382.7,371.57 380.63,370.5 378.8,365C376.97,359.5 374.95,353.63 373.3,347.4C371.65,341.17 369.88,333.83 368.9,327.6C367.92,321.37 367.58,316.23 367.4,310C367.22,303.77 367.37,295.7 367.8,290.2C368.23,284.7 368.53,280.3 370,277C371.47,273.7 374.43,271.97 376.6,270.4C378.77,268.83 380.68,268.25 383,267.6C385.32,266.95 387.23,266.7 390.5,266.5C393.77,266.3 398.38,265.93 402.6,266.4C406.82,266.87 411.77,267.53 415.8,269.3C419.83,271.07 424.05,273.88 426.8,277C429.55,280.12 430.9,283.6 432.3,288C433.7,292.4 434.58,297.9 435.2,303.4C435.82,308.9 435.63,314.4 436,321C436.37,327.6 436.73,335.67 437.4,343C438.07,350.33 439.02,357.67 440,365C440.98,372.33 442.57,380.67 443.3,387C444.03,393.33 443.48,394.83 444.4,403C445.32,411.17 447.7,426.1 448.8,436C449.9,445.9 450.57,454.9 451,462.4C451.43,469.9 451.33,477.9 451.4,481M387.2,366.5C386.9,365.88 386.43,366.35 385.4,362.8C384.37,359.25 382.28,351.07 381,345.2C379.72,339.33 378.43,333.47 377.7,327.6C376.97,321.73 376.85,315.5 376.6,310C376.35,304.5 375.65,299 376.2,294.6C376.75,290.2 378.43,285.95 379.9,283.6C381.37,281.25 383.23,281.1 385,280.5C386.77,279.9 387.93,280.03 390.5,280C393.07,279.97 396.92,279.52 400.4,280.3C403.88,281.08 407.92,282.5 411.4,284.7C414.88,286.9 418.55,290.02 421.3,293.5C424.05,296.98 426.32,301.02 427.9,305.6C429.48,310.18 430.18,314.77 430.8,321C431.42,327.23 431.23,335.67 431.6,343C431.97,350.33 432.33,357.67 433,365C433.67,372.33 435.07,380.67 435.6,387C436.13,393.33 436.13,394.83 436.2,403C436.27,411.17 435.93,426.83 436,436C436.07,445.17 436.67,451.77 436.6,458C436.53,464.23 436.32,469.57 435.6,473.4C434.88,477.23 432.85,479.73 432.3,481M388.3,381C388.38,384.17 388.65,391.83 388.8,400C388.95,408.17 389.13,425 389.2,430M389.6,400C389.57,395.83 389.5,381.93 389.4,375C389.3,368.07 389.3,363.73 389,358.4C388.7,353.07 388.2,348.13 387.6,343C387,337.87 385.95,333.1 385.4,327.6C384.85,322.1 384.48,314.77 384.3,310C384.12,305.23 383.75,302.12 384.3,299C384.85,295.88 386.57,292.8 387.6,291.3C388.63,289.8 388.73,290 390.5,290C392.27,290 395.45,290.17 398.2,291.3C400.95,292.43 404.25,294.05 407,296.8C409.75,299.55 412.93,304.6 414.7,307.8C416.47,311 417.12,314.63 417.6,316M418.2,332.5C418.1,334.58 417.82,341.42 417.6,345C417.38,348.58 417.13,349.2 416.9,354C416.67,358.8 416.1,367.8 416.2,373.8C416.3,379.8 416.83,385.13 417.5,390C418.17,394.87 419.2,395.33 420.2,403C421.2,410.67 422.77,426.83 423.5,436C424.23,445.17 424.97,452.13 424.6,458C424.23,463.87 423.5,468.27 421.3,471.2C419.1,474.13 414.88,475.05 411.4,475.6C407.92,476.15 403.33,476.33 400.4,474.5C397.47,472.67 395.08,471.02 393.8,464.6C392.52,458.18 393,446.77 392.7,436C392.4,425.23 392.15,410.67 392,400C391.85,389.33 391.83,376.67 391.8,372M409.2,340.5C409.38,339.82 410.12,339.65 410.3,336.4C410.48,333.15 410.67,325.4 410.3,321C409.93,316.6 409.38,313.12 408.1,310C406.82,306.88 404.62,304.13 402.6,302.3C400.58,300.47 397.7,299.22 396,299C394.3,298.78 393.1,298.43 392.4,301C391.7,303.57 391.75,309.97 391.8,314.4C391.85,318.83 392.18,321.73 392.7,327.6C393.22,333.47 394.17,343.37 394.9,349.6C395.63,355.83 396.18,361.88 397.1,365C398.02,368.12 399.3,369.03 400.4,368.3C401.5,367.57 402.88,362.65 403.7,360.6C404.52,358.55 405.03,356.77 405.3,356" fill="none" stroke="#767a7e" stroke-width="1.05"/>
<path d="M289,306.7C290.4,305.58 294.17,301.28 297.4,300C300.63,298.72 304.73,298.8 308.4,299C312.07,299.2 315.73,299.55 319.4,301.2C323.07,302.85 327.28,305.6 330.4,308.9C333.52,312.2 336.08,316.42 338.1,321C340.12,325.58 341.58,331.27 342.5,336.4C343.42,341.53 343.78,346.67 343.6,351.8C343.42,356.93 342.5,362.43 341.4,367.2C340.3,371.97 339.02,376.73 337,380.4C334.98,384.07 331.22,387.35 329.3,389.2C327.38,391.05 326.13,391.12 325.5,391.5M310.5,388.5C309.78,387.88 308.38,387.98 306.2,384.8C304.02,381.62 299.78,374.9 297.4,369.4C295.02,363.9 293.3,356.93 291.9,351.8C290.5,346.67 289.48,340.8 289,338.6M312,275.5C313.23,275.75 316.52,276.02 319.4,277C322.28,277.98 326.18,279.2 329.3,281.4C332.42,283.6 335.35,286.9 338.1,290.2C340.85,293.5 343.6,297.17 345.8,301.2C348,305.23 349.83,309.63 351.3,314.4C352.77,319.17 353.87,324.3 354.6,329.8C355.33,335.3 355.4,341.53 355.7,347.4C356,353.27 356.03,359.13 356.4,365C356.77,370.87 357.23,377.35 357.9,382.6C358.57,387.85 359.98,394.18 360.4,396.5M364,413C364.33,413.67 365,415.55 366,417C367,418.45 368.23,420.55 370,421.7C371.77,422.85 374.58,422.62 376.6,423.9C378.62,425.18 380.82,426.28 382.1,429.4C383.38,432.52 383.75,438.33 384.3,442.6C384.85,446.87 385.22,452.93 385.4,455M382.1,461.3C381.48,462.08 379.02,464.3 378.4,466C377.78,467.7 377.78,469.9 378.4,471.5C379.02,473.1 380.9,475.6 382.1,475.6C383.3,475.6 384.98,473.1 385.6,471.5C386.22,469.9 386.38,467.7 385.8,466C385.22,464.3 382.72,462.08 382.1,461.3M289,440.4C289.67,442.6 291.97,449.2 293,453.6C294.03,458 295.02,462.23 295.2,466.8C295.38,471.37 294.28,478.63 294.1,481M494,295.2C491.97,295.28 485.67,295.25 481.8,295.7C477.93,296.15 474.28,296.25 470.8,297.9C467.32,299.55 463.17,302.12 460.9,305.6C458.63,309.08 457.57,314.4 457.2,318.8C456.83,323.2 457.53,327.97 458.7,332C459.87,336.03 461.82,339.7 464.2,343C466.58,346.3 470.07,349.8 473,351.8C475.93,353.8 479.55,354.97 481.8,355C484.05,355.03 485.72,352.5 486.5,352" fill="none" stroke="#767a7e" stroke-width="1.05" stroke-dasharray="3.7 1.6"/>
<path d="M390.9,257.3V486" stroke="#000" stroke-width="1.15"/>
<path d="M288.5,452.1H493.3" stroke="#000" stroke-width="1.35" stroke-dasharray="4 1.65"/>
<text transform="translate(318,392) rotate(25)" font-size="10.4" text-anchor="middle" y="3.5" style="fill:#767a7e">−10</text>
<text transform="translate(362.5,405) rotate(-76)" font-size="10.4" text-anchor="middle" y="3.5" style="fill:#767a7e">−5</text>
<text transform="translate(387.6,373.8) rotate(-90)" font-size="10.4" text-anchor="middle" y="3.5" style="fill:#767a7e">10</text>
<text transform="translate(418.4,324.3) rotate(-86)" font-size="10.4" text-anchor="middle" y="3.5" style="fill:#767a7e">15</text>
<text transform="translate(407.2,348.5) rotate(-74)" font-size="10.4" text-anchor="middle" y="3.5" style="fill:#767a7e">20</text>
<text transform="translate(492,346) rotate(-55)" font-size="10.4" text-anchor="middle" y="3.5" style="fill:#767a7e">−5</text>
</g>
<path d="M65.89,246v-4.6M71.33,246v-4.6M76.77,246v-4.6M82.21,246v-4.6M87.65,246v-8M93.09,246v-4.6M98.53,246v-4.6M103.97,246v-4.6M109.41,246v-4.6M114.85,246v-8M120.29,246v-4.6M125.73,246v-4.6M131.17,246v-4.6M136.61,246v-4.6M142.05,246v-8M147.49,246v-4.6M152.93,246v-4.6M158.37,246v-4.6M163.81,246v-4.6M169.25,246v-8M174.69,246v-4.6M180.13,246v-4.6M185.57,246v-4.6M191.01,246v-4.6M196.45,246v-8M201.89,246v-4.6M207.33,246v-4.6M212.77,246v-4.6M218.21,246v-4.6M223.65,246v-8M229.09,246v-4.6M234.53,246v-4.6M239.97,246v-4.6M245.41,246v-4.6M250.85,246v-8M256.29,246v-4.6M261.73,246v-4.6M267.17,246v-4.6M272.61,246v-4.6M67,244.86h4.6M67,239.42h4.6M67,233.98h4.6M67,228.54h4.6M67,223.1h8M67,217.66h4.6M67,212.22h4.6M67,206.78h4.6M67,201.34h4.6M67,195.9h8M67,190.46h4.6M67,185.02h4.6M67,179.58h4.6M67,174.14h4.6M67,168.7h8M67,163.26h4.6M67,157.82h4.6M67,152.38h4.6M67,146.94h4.6M67,141.5h8M67,136.06h4.6M67,130.62h4.6M67,125.18h4.6M67,119.74h4.6M67,114.3h8M67,108.86h4.6M67,103.42h4.6M67,97.98h4.6M67,92.54h4.6M67,87.1h8M67,81.66h4.6M67,76.22h4.6M67,70.78h4.6M67,65.34h4.6M67,59.9h8M67,54.46h4.6M67,49.02h4.6M67,43.58h4.6M67,38.14h4.6" stroke="#000" stroke-width="1.3" fill="none"/>
<rect x="67" y="37" width="204.5" height="209" fill="none" stroke="#000" stroke-width="1.3"/>
<path d="M287.54,246v-4.6M292.98,246v-4.6M298.42,246v-4.6M303.86,246v-4.6M309.3,246v-8M314.74,246v-4.6M320.18,246v-4.6M325.62,246v-4.6M331.06,246v-4.6M336.5,246v-8M341.94,246v-4.6M347.38,246v-4.6M352.82,246v-4.6M358.26,246v-4.6M363.7,246v-8M369.14,246v-4.6M374.58,246v-4.6M380.02,246v-4.6M385.46,246v-4.6M390.9,246v-8M396.34,246v-4.6M401.78,246v-4.6M407.22,246v-4.6M412.66,246v-4.6M418.1,246v-8M423.54,246v-4.6M428.98,246v-4.6M434.42,246v-4.6M439.86,246v-4.6M445.3,246v-8M450.74,246v-4.6M456.18,246v-4.6M461.62,246v-4.6M467.06,246v-4.6M472.5,246v-8M477.94,246v-4.6M483.38,246v-4.6M488.82,246v-4.6M494.26,246v-4.6M288.5,244.86h4.6M288.5,239.42h4.6M288.5,233.98h4.6M288.5,228.54h4.6M288.5,223.1h8M288.5,217.66h4.6M288.5,212.22h4.6M288.5,206.78h4.6M288.5,201.34h4.6M288.5,195.9h8M288.5,190.46h4.6M288.5,185.02h4.6M288.5,179.58h4.6M288.5,174.14h4.6M288.5,168.7h8M288.5,163.26h4.6M288.5,157.82h4.6M288.5,152.38h4.6M288.5,146.94h4.6M288.5,141.5h8M288.5,136.06h4.6M288.5,130.62h4.6M288.5,125.18h4.6M288.5,119.74h4.6M288.5,114.3h8M288.5,108.86h4.6M288.5,103.42h4.6M288.5,97.98h4.6M288.5,92.54h4.6M288.5,87.1h8M288.5,81.66h4.6M288.5,76.22h4.6M288.5,70.78h4.6M288.5,65.34h4.6M288.5,59.9h8M288.5,54.46h4.6M288.5,49.02h4.6M288.5,43.58h4.6M288.5,38.14h4.6" stroke="#000" stroke-width="1.3" fill="none"/>
<rect x="288.5" y="37" width="204.8" height="209" fill="none" stroke="#000" stroke-width="1.3"/>
<path d="M65.89,486v-4.6M71.33,486v-4.6M76.77,486v-4.6M82.21,486v-4.6M87.65,486v-8M93.09,486v-4.6M98.53,486v-4.6M103.97,486v-4.6M109.41,486v-4.6M114.85,486v-8M120.29,486v-4.6M125.73,486v-4.6M131.17,486v-4.6M136.61,486v-4.6M142.05,486v-8M147.49,486v-4.6M152.93,486v-4.6M158.37,486v-4.6M163.81,486v-4.6M169.25,486v-8M174.69,486v-4.6M180.13,486v-4.6M185.57,486v-4.6M191.01,486v-4.6M196.45,486v-8M201.89,486v-4.6M207.33,486v-4.6M212.77,486v-4.6M218.21,486v-4.6M223.65,486v-8M229.09,486v-4.6M234.53,486v-4.6M239.97,486v-4.6M245.41,486v-4.6M250.85,486v-8M256.29,486v-4.6M261.73,486v-4.6M267.17,486v-4.6M272.61,486v-4.6M67,268.74h4.6M67,280.18h8M67,291.62h4.6M67,303.06h4.6M67,314.5h4.6M67,325.94h8M67,337.38h4.6M67,348.82h4.6M67,360.26h4.6M67,371.7h8M67,383.14h4.6M67,394.58h4.6M67,406.02h4.6M67,417.46h8M67,428.9h4.6M67,440.34h4.6M67,451.78h4.6M67,463.22h8M67,474.66h4.6" stroke="#000" stroke-width="1.3" fill="none"/>
<rect x="67" y="257.3" width="204.5" height="228.7" fill="none" stroke="#000" stroke-width="1.3"/>
<path d="M287.54,486v-4.6M292.98,486v-4.6M298.42,486v-4.6M303.86,486v-4.6M309.3,486v-8M314.74,486v-4.6M320.18,486v-4.6M325.62,486v-4.6M331.06,486v-4.6M336.5,486v-8M341.94,486v-4.6M347.38,486v-4.6M352.82,486v-4.6M358.26,486v-4.6M363.7,486v-8M369.14,486v-4.6M374.58,486v-4.6M380.02,486v-4.6M385.46,486v-4.6M390.9,486v-8M396.34,486v-4.6M401.78,486v-4.6M407.22,486v-4.6M412.66,486v-4.6M418.1,486v-8M423.54,486v-4.6M428.98,486v-4.6M434.42,486v-4.6M439.86,486v-4.6M445.3,486v-8M450.74,486v-4.6M456.18,486v-4.6M461.62,486v-4.6M467.06,486v-4.6M472.5,486v-8M477.94,486v-4.6M483.38,486v-4.6M488.82,486v-4.6M494.26,486v-4.6M288.5,268.74h4.6M288.5,280.18h8M288.5,291.62h4.6M288.5,303.06h4.6M288.5,314.5h4.6M288.5,325.94h8M288.5,337.38h4.6M288.5,348.82h4.6M288.5,360.26h4.6M288.5,371.7h8M288.5,383.14h4.6M288.5,394.58h4.6M288.5,406.02h4.6M288.5,417.46h8M288.5,428.9h4.6M288.5,440.34h4.6M288.5,451.78h4.6M288.5,463.22h8M288.5,474.66h4.6" stroke="#000" stroke-width="1.3" fill="none"/>
<rect x="288.5" y="257.3" width="204.8" height="228.7" fill="none" stroke="#000" stroke-width="1.3"/>
<g fill="#808080" stroke="none"><rect x="256.15" y="114" width="1.8" height="52"/><path d="M257.05,108.8L260,116.6H254.1Z"/><path d="M257.05,172.6L260,164.8H254.1Z"/></g>
<text x="257.6" y="101" font-size="14.6" text-anchor="middle" style="fill:#808080" textLength="21" lengthAdjust="spacingAndGlyphs">EQ</text>
<text x="257.4" y="188" font-size="14.6" text-anchor="middle" style="fill:#808080" textLength="17.5" lengthAdjust="spacingAndGlyphs">SP</text>
<rect x="67.6" y="37.6" width="27.6" height="25.6" fill="#fff"/>
<text x="81.7" y="53.8" font-size="15.2" font-weight="bold" text-anchor="middle">(a)</text>
<rect x="289.1" y="37.6" width="29.2" height="25.6" fill="#fff"/>
<text x="304" y="53.8" font-size="15.2" font-weight="bold" text-anchor="middle">(b)</text>
<rect x="67.6" y="257.9" width="26.6" height="25.6" fill="#fff"/>
<text x="81.2" y="274.1" font-size="15.2" font-weight="bold" text-anchor="middle">(c)</text>
<rect x="289.1" y="257.9" width="29.2" height="25.6" fill="#fff"/>
<text x="304" y="274.1" font-size="15.2" font-weight="bold" text-anchor="middle">(d)</text>
<rect x="209.4" y="37.5" width="61.8" height="25.4" fill="#fff" stroke="#000" stroke-width="1.9"/>
<text x="240.3" y="54.8" font-size="16" text-anchor="middle" textLength="52.8" lengthAdjust="spacingAndGlyphs">N=3379</text>
<rect x="431.2" y="37.5" width="61.8" height="25.4" fill="#fff" stroke="#000" stroke-width="1.9"/>
<text x="462.1" y="54.8" font-size="16" text-anchor="middle" textLength="52.8" lengthAdjust="spacingAndGlyphs">N=3379</text>
<text x="74.45" y="503.6" font-size="16.0" textLength="11.36" lengthAdjust="spacingAndGlyphs">−</text>
<text x="85.81" y="503.6" font-size="16.0" textLength="15.04" lengthAdjust="spacingAndGlyphs">15</text>
<text x="101.65" y="503.6" font-size="16.0" textLength="11.36" lengthAdjust="spacingAndGlyphs">−</text>
<text x="113.01" y="503.6" font-size="16.0" textLength="15.04" lengthAdjust="spacingAndGlyphs">10</text>
<text x="132.61" y="503.6" font-size="16.0" textLength="11.36" lengthAdjust="spacingAndGlyphs">−</text>
<text x="143.97" y="503.6" font-size="16.0" textLength="7.52" lengthAdjust="spacingAndGlyphs">5</text>
<text x="165.49" y="503.6" font-size="16.0" textLength="7.52" lengthAdjust="spacingAndGlyphs">0</text>
<text x="192.69" y="503.6" font-size="16.0" textLength="7.52" lengthAdjust="spacingAndGlyphs">5</text>
<text x="216.13" y="503.6" font-size="16.0" textLength="15.04" lengthAdjust="spacingAndGlyphs">10</text>
<text x="243.33" y="503.6" font-size="16.0" textLength="15.04" lengthAdjust="spacingAndGlyphs">15</text>
<text x="169.25" y="530.2" font-size="20.6" text-anchor="middle" textLength="62.5" lengthAdjust="spacingAndGlyphs">rlon (°)</text>
<text x="296.1" y="503.6" font-size="16.0" textLength="11.36" lengthAdjust="spacingAndGlyphs">−</text>
<text x="307.46" y="503.6" font-size="16.0" textLength="15.04" lengthAdjust="spacingAndGlyphs">15</text>
<text x="323.3" y="503.6" font-size="16.0" textLength="11.36" lengthAdjust="spacingAndGlyphs">−</text>
<text x="334.66" y="503.6" font-size="16.0" textLength="15.04" lengthAdjust="spacingAndGlyphs">10</text>
<text x="354.26" y="503.6" font-size="16.0" textLength="11.36" lengthAdjust="spacingAndGlyphs">−</text>
<text x="365.62" y="503.6" font-size="16.0" textLength="7.52" lengthAdjust="spacingAndGlyphs">5</text>
<text x="387.14" y="503.6" font-size="16.0" textLength="7.52" lengthAdjust="spacingAndGlyphs">0</text>
<text x="414.34" y="503.6" font-size="16.0" textLength="7.52" lengthAdjust="spacingAndGlyphs">5</text>
<text x="437.78" y="503.6" font-size="16.0" textLength="15.04" lengthAdjust="spacingAndGlyphs">10</text>
<text x="464.98" y="503.6" font-size="16.0" textLength="15.04" lengthAdjust="spacingAndGlyphs">15</text>
<text x="390.9" y="530.2" font-size="20.6" text-anchor="middle" textLength="62.5" lengthAdjust="spacingAndGlyphs">rlon (°)</text>
<text x="35" y="228.4" font-size="16.0" textLength="11.36" lengthAdjust="spacingAndGlyphs">−</text>
<text x="46.36" y="228.4" font-size="16.0" textLength="15.04" lengthAdjust="spacingAndGlyphs">15</text>
<text x="35" y="201.2" font-size="16.0" textLength="11.36" lengthAdjust="spacingAndGlyphs">−</text>
<text x="46.36" y="201.2" font-size="16.0" textLength="15.04" lengthAdjust="spacingAndGlyphs">10</text>
<text x="42.52" y="174" font-size="16.0" textLength="11.36" lengthAdjust="spacingAndGlyphs">−</text>
<text x="53.88" y="174" font-size="16.0" textLength="7.52" lengthAdjust="spacingAndGlyphs">5</text>
<text x="53.88" y="146.8" font-size="16.0" textLength="7.52" lengthAdjust="spacingAndGlyphs">0</text>
<text x="53.88" y="119.6" font-size="16.0" textLength="7.52" lengthAdjust="spacingAndGlyphs">5</text>
<text x="46.36" y="92.4" font-size="16.0" textLength="15.04" lengthAdjust="spacingAndGlyphs">10</text>
<text x="46.36" y="65.2" font-size="16.0" textLength="15.04" lengthAdjust="spacingAndGlyphs">15</text>
<text x="38.64" y="285.48" font-size="16.0" textLength="22.56" lengthAdjust="spacingAndGlyphs">100</text>
<text x="38.64" y="331.24" font-size="16.0" textLength="22.56" lengthAdjust="spacingAndGlyphs">300</text>
<text x="38.64" y="377" font-size="16.0" textLength="22.56" lengthAdjust="spacingAndGlyphs">500</text>
<text x="38.64" y="422.76" font-size="16.0" textLength="22.56" lengthAdjust="spacingAndGlyphs">700</text>
<text x="38.64" y="468.52" font-size="16.0" textLength="22.56" lengthAdjust="spacingAndGlyphs">900</text>
<text transform="translate(19.6,141.6) rotate(-90)" font-size="20.6" text-anchor="middle" textLength="57" lengthAdjust="spacingAndGlyphs">rlat (°)</text>
<text transform="translate(25,372) rotate(-90)" font-size="20.6" text-anchor="middle" textLength="64.5" lengthAdjust="spacingAndGlyphs">P (hPa)</text>
<text x="168.6" y="20" font-size="20" text-anchor="middle" textLength="208" lengthAdjust="spacingAndGlyphs">Strongest intensification</text>
<text x="390.8" y="20" font-size="20" text-anchor="middle" textLength="161.5" lengthAdjust="spacingAndGlyphs">Deepest minimum</text>
<rect x="85.55" y="549.3" width="19.72" height="12" fill="#01256D"/>
<rect x="104.97" y="549.3" width="19.72" height="12" fill="#033879"/>
<rect x="124.39" y="549.3" width="19.72" height="12" fill="#0B4C86"/>
<rect x="143.81" y="549.3" width="19.72" height="12" fill="#166194"/>
<rect x="163.23" y="549.3" width="19.72" height="12" fill="#2A77A3"/>
<rect x="182.65" y="549.3" width="19.72" height="12" fill="#4D90B3"/>
<rect x="202.07" y="549.3" width="19.72" height="12" fill="#71A8C4"/>
<rect x="221.49" y="549.3" width="19.72" height="12" fill="#97BFD3"/>
<rect x="240.91" y="549.3" width="19.72" height="12" fill="#BCD5E2"/>
<rect x="260.33" y="549.3" width="19.72" height="12" fill="#DEE5E9"/>
<rect x="279.75" y="549.3" width="19.72" height="12" fill="#EEDDD3"/>
<rect x="299.17" y="549.3" width="19.72" height="12" fill="#E7C6B3"/>
<rect x="318.59" y="549.3" width="19.72" height="12" fill="#DDAF93"/>
<rect x="338.01" y="549.3" width="19.72" height="12" fill="#D39774"/>
<rect x="357.43" y="549.3" width="19.72" height="12" fill="#CA8258"/>
<rect x="376.85" y="549.3" width="19.72" height="12" fill="#C2682F"/>
<rect x="396.27" y="549.3" width="19.72" height="12" fill="#B1501C"/>
<rect x="415.69" y="549.3" width="19.72" height="12" fill="#94310B"/>
<rect x="435.11" y="549.3" width="19.72" height="12" fill="#7F1E07"/>
<rect x="454.53" y="549.3" width="19.72" height="12" fill="#6A0F08"/>
<path d="M85.8,549.3L67,555.3L85.8,561.3Z" fill="#001261"/>
<path d="M473.8,549.3L493.6,555.3L473.8,561.3Z" fill="#590008"/>
<path d="M279.8,549.3V561.3" stroke="#fff" stroke-width="1.2"/>
<path d="M67,555.3L85.6,549.3L474,549.3L493.6,555.3L474,561.3L85.6,561.3Z" fill="none" stroke="#000" stroke-width="1.3" stroke-linejoin="miter"/>
<text x="70.52" y="586.6" font-size="16.0" textLength="11.36" lengthAdjust="spacingAndGlyphs">−</text>
<text x="81.88" y="586.6" font-size="16.0" textLength="18.8" lengthAdjust="spacingAndGlyphs">2.5</text>
<text x="109.36" y="586.6" font-size="16.0" textLength="11.36" lengthAdjust="spacingAndGlyphs">−</text>
<text x="120.72" y="586.6" font-size="16.0" textLength="18.8" lengthAdjust="spacingAndGlyphs">2.0</text>
<text x="148.2" y="586.6" font-size="16.0" textLength="11.36" lengthAdjust="spacingAndGlyphs">−</text>
<text x="159.56" y="586.6" font-size="16.0" textLength="18.8" lengthAdjust="spacingAndGlyphs">1.5</text>
<text x="187.04" y="586.6" font-size="16.0" textLength="11.36" lengthAdjust="spacingAndGlyphs">−</text>
<text x="198.4" y="586.6" font-size="16.0" textLength="18.8" lengthAdjust="spacingAndGlyphs">1.0</text>
<text x="225.88" y="586.6" font-size="16.0" textLength="11.36" lengthAdjust="spacingAndGlyphs">−</text>
<text x="237.24" y="586.6" font-size="16.0" textLength="18.8" lengthAdjust="spacingAndGlyphs">0.5</text>
<text x="270.4" y="586.6" font-size="16.0" textLength="18.8" lengthAdjust="spacingAndGlyphs">0.0</text>
<text x="309.24" y="586.6" font-size="16.0" textLength="18.8" lengthAdjust="spacingAndGlyphs">0.5</text>
<text x="348.08" y="586.6" font-size="16.0" textLength="18.8" lengthAdjust="spacingAndGlyphs">1.0</text>
<text x="386.92" y="586.6" font-size="16.0" textLength="18.8" lengthAdjust="spacingAndGlyphs">1.5</text>
<text x="425.76" y="586.6" font-size="16.0" textLength="18.8" lengthAdjust="spacingAndGlyphs">2.0</text>
<text x="464.6" y="586.6" font-size="16.0" textLength="18.8" lengthAdjust="spacingAndGlyphs">2.5</text>
<path d="M85.6,561.3v8M124.44,561.3v8M163.28,561.3v8M202.12,561.3v8M240.96,561.3v8M279.8,561.3v8M318.64,561.3v8M357.48,561.3v8M396.32,561.3v8M435.16,561.3v8M474,561.3v8" stroke="#000" stroke-width="1.3"/>
<text x="211.2" y="614.2" font-size="20.6" textLength="20.4" lengthAdjust="spacingAndGlyphs">10</text>
<text x="231.5" y="605.6" font-size="14.4" textLength="7.2" lengthAdjust="spacingAndGlyphs">5</text>
<text x="242.6" y="614.2" font-size="20.6" textLength="7.2" lengthAdjust="spacingAndGlyphs">J</text>
<text x="252.2" y="614.2" font-size="20.6" textLength="23.4" lengthAdjust="spacingAndGlyphs">kg</text>
<text x="276.2" y="605.6" font-size="14.4" textLength="12.2" lengthAdjust="spacingAndGlyphs">−</text>
<text x="288.6" y="605.6" font-size="14.4" textLength="6.8" lengthAdjust="spacingAndGlyphs">1</text>
<text x="300.4" y="614.2" font-size="20.6" textLength="16.8" lengthAdjust="spacingAndGlyphs">m</text>
<text x="319.7" y="614.2" font-size="20.6" textLength="8.6" lengthAdjust="spacingAndGlyphs">s</text>
<text x="329.4" y="605.6" font-size="14.4" textLength="12.4" lengthAdjust="spacingAndGlyphs">−</text>
<text x="342.2" y="605.6" font-size="14.4" textLength="6.8" lengthAdjust="spacingAndGlyphs">1</text>
</svg>
</body></html>
